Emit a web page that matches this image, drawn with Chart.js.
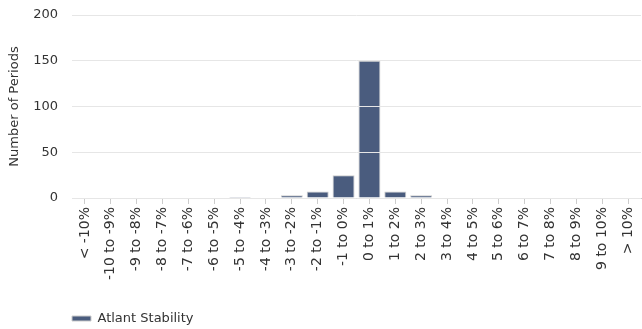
<!DOCTYPE html>
<html lang="en">
<head>
    <meta charset="UTF-8">
    <title>Atlant Stability - Distribution</title>
    <script src="https://cdn.jsdelivr.net/npm/chart.js@4.4.0/dist/chart.umd.min.js"></script>
    <style>
        html, body {
            margin: 0;
            padding: 0;
            background: #ffffff;
        }
        .chart-box {
            position: relative;
            width: 642px;
            height: 329px;
        }
    </style>
</head>
<body>
    <div class="chart-box">
        <canvas id="histChart"></canvas>
    </div>

    <script>
        const categories = ['< -10%', '-10 to -9%', '-9 to -8%', '-8 to -7%', '-7 to -6%', '-6 to -5%',
            '-5 to -4%', '-4 to -3%', '-3 to -2%', '-2 to -1%', '-1 to 0%', '0 to 1%', '1 to 2%',
            '2 to 3%', '3 to 4%', '4 to 5%', '5 to 6%', '6 to 7%', '7 to 8%', '8 to 9%', '9 to 10%', '> 10%'];
        const periods = [0, 0, 0, 0, 0, 0, 1, 0, 3, 7, 25, 150, 7, 3, 0, 0, 0, 0, 0, 0, 0, 0];
        const seriesName = 'Atlant Stability';
        const yTitle = 'Number of Periods';

        const textColor = '#333333';
        const fontFamily = "'DejaVu Sans', Verdana, sans-serif";

        // push the legend so it lines up with the plot's left edge, and a bit lower
        const legendShift = {
            id: 'legendShift',
            afterLayout(chart) {
                chart.legend.left = 62;
                chart.legend.top += 8;
            }
        };

        const ctx = document.getElementById('histChart').getContext('2d');
        new Chart(ctx, {
            type: 'bar',
            data: {
                labels: categories,
                datasets: [{
                    label: seriesName,
                    data: periods,
                    backgroundColor: '#4a5c7e',
                    borderColor: '#cccccc',
                    borderWidth: 1,
                    barPercentage: 0.85,
                    categoryPercentage: 1.0
                }]
            },
            options: {
                responsive: true,
                maintainAspectRatio: false,
                animation: false,
                layout: {
                    padding: { top: 15, right: 1, left: 0, bottom: 2 }
                },
                plugins: {
                    legend: {
                        position: 'bottom',
                        align: 'start',
                        labels: {
                            boxWidth: 19,
                            boxHeight: 5,
                            padding: 10,
                            color: textColor,
                            font: { family: fontFamily, size: 13 }
                        }
                    },
                    tooltip: { enabled: false }
                },
                scales: {
                    x: {
                        grid: {
                            offset: false,
                            drawOnChartArea: false,
                            color: '#cccccc',
                            tickLength: 6
                        },
                        border: { color: '#cccccc' },
                        ticks: {
                            color: textColor,
                            font: { family: fontFamily, size: 14 },
                            minRotation: 90,
                            maxRotation: 90,
                            autoSkip: false,
                            padding: 3
                        },
                        afterFit(scale) {
                            scale.height = 96;
                            scale.paddingLeft = 0;
                            scale.paddingRight = 0;
                        }
                    },
                    y: {
                        min: 0,
                        max: 200,
                        ticks: {
                            stepSize: 50,
                            color: textColor,
                            font: { family: fontFamily, size: 13 },
                            padding: 14
                        },
                        grid: {
                            z: 1,
                            color: '#e6e6e6',
                            drawTicks: false
                        },
                        border: { display: false },
                        title: {
                            display: true,
                            text: yTitle,
                            color: textColor,
                            font: { family: fontFamily, size: 13 },
                            padding: { top: 7, bottom: 0 }
                        },
                        afterFit(scale) {
                            scale.width = 72;
                            scale.paddingTop = 0;
                        }
                    }
                }
            },
            plugins: [legendShift]
        });
    </script>
</body>
</html>
